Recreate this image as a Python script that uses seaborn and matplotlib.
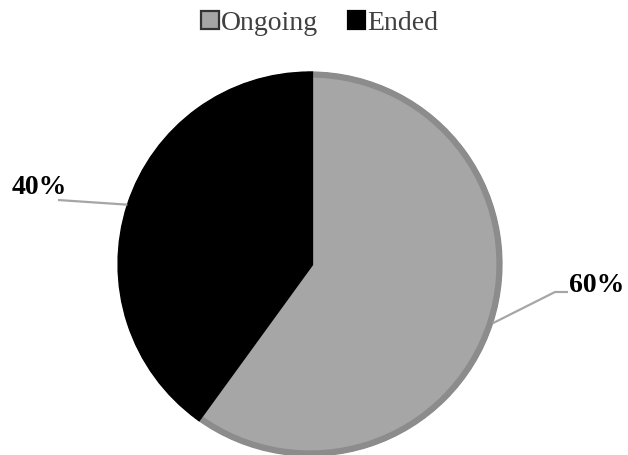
import numpy as np
import matplotlib
matplotlib.use("Agg")
import matplotlib.pyplot as plt
from matplotlib.patches import Patch
import seaborn as sns

# Share of cases by status
categories = ["Ongoing", "Ended"]
values = [60, 40]
fills = ["#a6a6a6", "#000000"]
rims = ["#8c8c8c", "#000000"]

sns.set_theme(style="white")
plt.rcParams["font.family"] = ["Liberation Serif", "DejaVu Serif"]

W, H = 628, 455
fig = plt.figure(figsize=(W / 100, H / 100), dpi=100)
ax = fig.add_axes([0, 0, 1, 1])

cx, cy, r = 310, H - 264, 192
start = 90

# outer dark outline
ax.pie(values, colors=["#1a1a1a", "#000000"], radius=r, center=(cx, cy),
       startangle=start, counterclock=False, wedgeprops=dict(linewidth=0))
# bevelled rim and fill
wedges, _ = ax.pie(values, colors=fills, radius=r - 2.5, center=(cx, cy),
                   startangle=start, counterclock=False,
                   wedgeprops=dict(linewidth=0))
for w, rc in zip(wedges, rims):
    w.set_edgecolor(rc)
    w.set_linewidth(4.5)
    w.set_joinstyle("miter")

# percentage labels with leader lines to the slice midpoints
total = sum(values)
angle = start
label_pos = {"Ongoing": [(555, 292), (568, 292)], "Ended": [(58, 200), (58, 200)]}
text_pos = {"Ongoing": (597, 286), "Ended": (39, 188)}
for cat, v in zip(categories, values):
    span = 360 * v / total
    mid = np.deg2rad(angle - span / 2)
    angle -= span
    px, py = cx + r * np.cos(mid), cy + r * np.sin(mid)
    pts = [(px, py)] + [(x, H - y) for x, y in label_pos[cat]]
    xs, ys = zip(*pts)
    ax.plot(xs, ys, color="#a6a6a6", lw=1.6, solid_capstyle="butt")
    tx, ty = text_pos[cat]
    ax.text(tx, H - ty, f"{v}%", ha="center", va="center",
            fontsize=20, fontweight="bold", color="black")

handles = [Patch(facecolor=f, edgecolor=e, linewidth=1.6)
           for f, e in zip(fills, ["#333333", "#000000"])]
leg = ax.legend(handles, categories, loc="center",
                bbox_to_anchor=(320 / W, 1 - 23 / H),
                ncol=2, frameon=False, fontsize=20, handlelength=0.62,
                handleheight=0.62, handletextpad=0.1, columnspacing=1.05)
for t in leg.get_texts():
    t.set_color("#404040")

ax.set_xlim(0, W)
ax.set_ylim(0, H)
ax.set_aspect("equal")
ax.axis("off")
fig.savefig("out.png", dpi=100, facecolor="white")
